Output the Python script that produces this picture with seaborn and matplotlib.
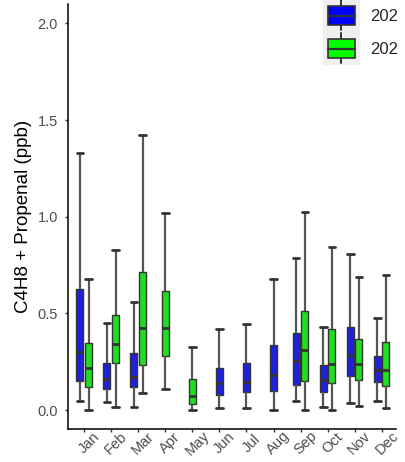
import numpy as np
import pandas as pd
import matplotlib
matplotlib.use("Agg")
import matplotlib.pyplot as plt
import matplotlib.transforms as mtransforms
from matplotlib.legend_handler import HandlerBase
from matplotlib.patches import Rectangle, Patch
from matplotlib.lines import Line2D
import seaborn as sns

# ---------------- data ----------------
months = ["Jan", "Feb", "Mar", "Apr", "May", "Jun",
          "Jul", "Aug", "Sep", "Oct", "Nov", "Dec"]
series = ["202 (first)", "202 (second)"]
legend_labels = ["202", "202"]
nan = np.nan

# series 1 (blue): whisker low, Q1, median, Q3, whisker high
s1_low  = [0.048, 0.040, 0.017, nan, nan, 0.010, 0.010, 0.000, 0.047, 0.017, 0.038, 0.047]
s1_q1   = [0.150, 0.110, 0.117, nan, nan, 0.076, 0.091, 0.100, 0.131, 0.091, 0.178, 0.147]
s1_med  = [0.302, 0.160, 0.169, nan, nan, 0.138, 0.145, 0.183, 0.255, 0.155, 0.285, 0.207]
s1_q3   = [0.626, 0.241, 0.297, nan, nan, 0.217, 0.241, 0.334, 0.400, 0.233, 0.428, 0.279]
s1_high = [1.330, 0.452, 0.560, nan, nan, 0.419, 0.447, 0.680, 0.784, 0.430, 0.805, 0.476]

# series 2 (green)
s2_low  = [0.000, 0.017, 0.086, 0.110, 0.000, nan, nan, nan, 0.000, 0.000, 0.022, 0.009]
s2_q1   = [0.117, 0.241, 0.233, 0.279, 0.029, nan, nan, nan, 0.150, 0.138, 0.155, 0.124]
s2_med  = [0.216, 0.340, 0.426, 0.426, 0.074, nan, nan, nan, 0.309, 0.238, 0.238, 0.207]
s2_q3   = [0.345, 0.492, 0.712, 0.615, 0.162, nan, nan, nan, 0.514, 0.419, 0.366, 0.352]
s2_high = [0.677, 0.830, 1.424, 1.017, 0.328, nan, nan, nan, 1.025, 0.845, 0.690, 0.697]

colors = ["#0000FF", "#00FF00"]

# ---------------- long table: five summary values per box ----------------
stats = {
    series[0]: (s1_low, s1_q1, s1_med, s1_q3, s1_high),
    series[1]: (s2_low, s2_q1, s2_med, s2_q3, s2_high),
}
rows = []
for s, arrs in stats.items():
    for i, m in enumerate(months):
        vals = [a[i] for a in arrs]
        if np.isnan(vals[0]):
            continue
        for v in vals:
            rows.append({"month": m, "series": s, "value": v})
df = pd.DataFrame(rows)
counts = df.groupby("month")["series"].nunique()
df["both"] = df["month"].map(counts) == 2

# ---------------- figure ----------------
sns.set_theme(style="ticks")
plt.rcParams["font.family"] = ["Liberation Sans", "DejaVu Sans"]

fig = plt.figure(figsize=(4.05, 4.62), dpi=100)
ax = fig.add_axes([68 / 405, 1 - 429 / 462, (396 - 68) / 405, (429 - 4) / 462])

edge = "#333333"
common = dict(x="month", y="value", hue="series", order=months, hue_order=series,
              palette=colors, whis=(0, 100), linecolor=edge, linewidth=1.0,
              fliersize=0, legend=False, ax=ax,
              medianprops=dict(linewidth=2.0, color=edge),
              whiskerprops=dict(linewidth=1.6, color="#555555"),
              capprops=dict(linewidth=2.0, color=edge),
              capwidths=0.24)

sns.boxplot(data=df[df["both"]], dodge=True, width=0.64, gap=0.19, **common)
sns.boxplot(data=df[~df["both"]], dodge=False, width=0.26, **common)

ax.set_xlim(-0.6, 11.53)
ax.set_ylim(-0.098, 2.10)
ax.set_yticks([0.0, 0.5, 1.0, 1.5, 2.0])
ax.set_yticklabels(["0.0", "0.5", "1.0", "1.5", "2.0"])

for sp in ["top", "right"]:
    ax.spines[sp].set_visible(False)
for sp in ["left", "bottom"]:
    ax.spines[sp].set_color("black")
    ax.spines[sp].set_linewidth(1.1)

ax.tick_params(axis="both", length=2.2, width=1.0, color="#333333",
               labelcolor="#4D4D4D", labelsize=10.5)
ax.tick_params(axis="y", pad=5)
ax.tick_params(axis="x", pad=7.9)

offset = mtransforms.ScaledTranslation(5 / 100, 0, fig.dpi_scale_trans)
for lab in ax.get_xticklabels():
    lab.set_rotation(45)
    lab.set_ha("center")
    lab.set_va("center")
    lab.set_rotation_mode("anchor")
    lab.set_transform(lab.get_transform() + offset)

ax.set_xlabel("")
ax.set_ylabel("C4H8 + Propenal (ppb)", fontsize=13.5, color="black", labelpad=4)


# ---------------- legend with boxplot-style keys ----------------
class BoxKeyHandler(HandlerBase):
    def create_artists(self, legend, orig_handle, xdescent, ydescent,
                       width, height, fontsize, trans):
        x0, y0 = -xdescent, -ydescent
        bg = Rectangle((x0, y0), width, height, facecolor="#EFEFEF",
                       edgecolor="none", transform=trans)
        bw, bh = width * 0.73, height * 0.56
        cx, cy = x0 + width / 2, y0 + height / 2
        wh1 = Line2D([cx, cx], [y0 + height * 0.06, cy - bh / 2], color=edge,
                     lw=1.4, transform=trans)
        wh2 = Line2D([cx, cx], [cy + bh / 2, y0 + height * 0.97], color=edge,
                     lw=1.4, transform=trans)
        box = Rectangle((cx - bw / 2, cy - bh / 2), bw, bh,
                        facecolor=orig_handle.get_facecolor(), edgecolor=edge,
                        lw=1.2, transform=trans)
        med = Line2D([cx - bw / 2, cx + bw / 2], [cy, cy], color=edge, lw=1.6,
                     transform=trans)
        return [bg, wh1, wh2, box, med]


handles = [Patch(facecolor=c) for c in colors]
fig.legend(handles, legend_labels, handler_map={Patch: BoxKeyHandler()},
           loc="upper left", bbox_to_anchor=(323 / 405, 1.0 + 1 / 462),
           frameon=False, fontsize=12, borderpad=0, borderaxespad=0,
           handlelength=2.2, handleheight=2.67, labelspacing=0,
           handletextpad=0.62)

fig.savefig("out.png", dpi=100)
